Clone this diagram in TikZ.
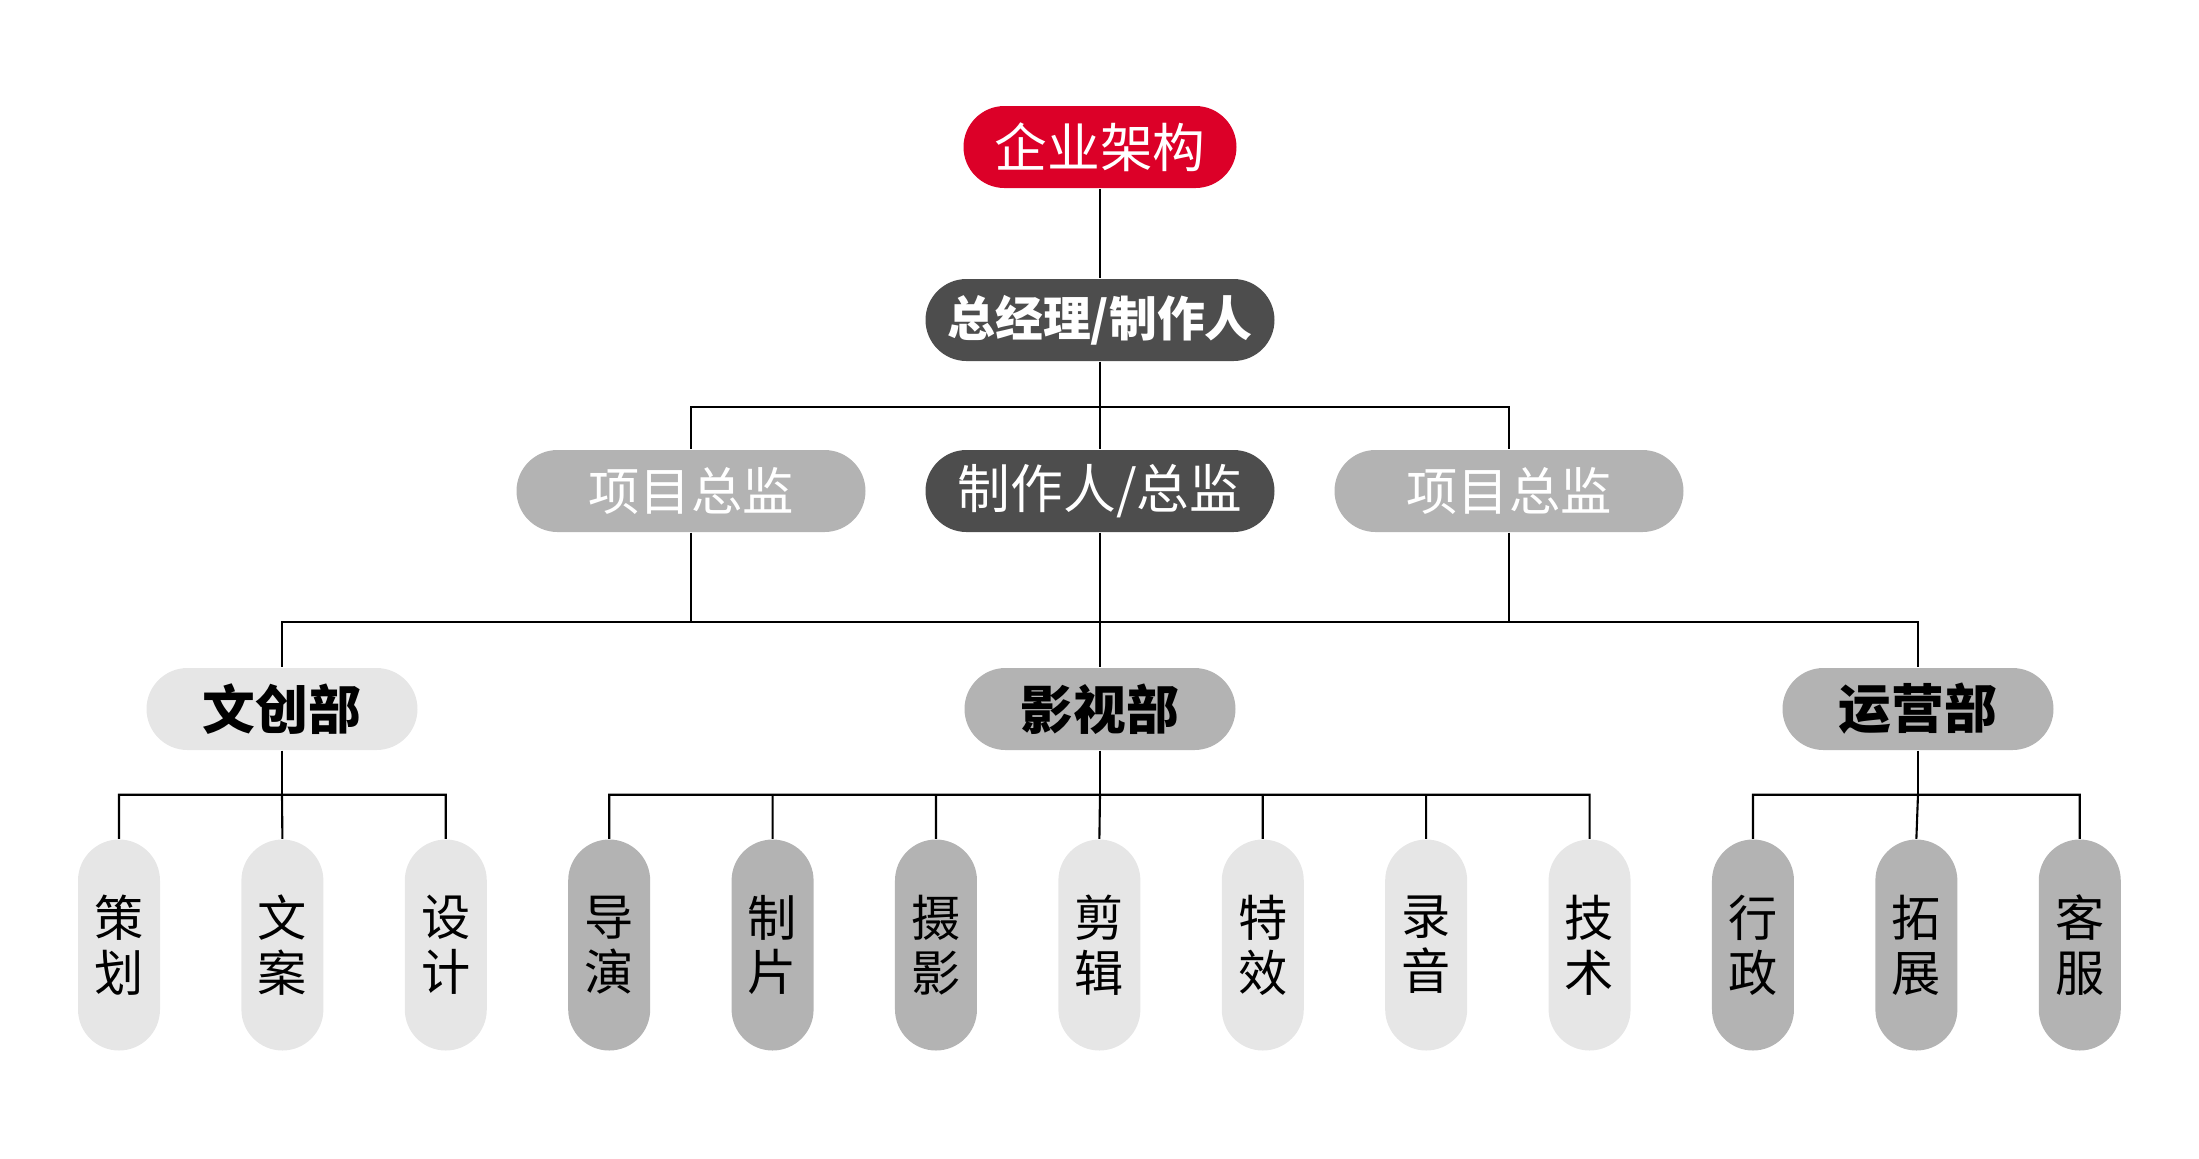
\documentclass[tikz,border=0pt]{standalone}
\usepackage{fontspec}
\setmainfont{Noto Sans CJK SC}
\usetikzlibrary{positioning}

\definecolor{topred}{RGB}{220,0,40}
\definecolor{darkbox}{RGB}{77,77,77}
\definecolor{midbox}{RGB}{179,179,179}
\definecolor{lightbox}{RGB}{230,230,230}

\begin{document}
\begin{tikzpicture}[x=0.1mm, y=-0.1mm, node distance=1.634cm,
  pill/.style={rounded corners=4.1mm, minimum height=8.2mm, inner sep=0pt,
    font=\fontsize{15}{18}\selectfont},
  heavy/.style={font=\fontsize{15}{18}\selectfont\bfseries},
  leaf/.style={rounded corners=4.1mm, minimum width=8.2mm, minimum height=21.1mm,
    inner sep=0pt, align=center, font=\fontsize{14}{15.6}\selectfont},
  link/.style={line width=0.6pt}]
  \useasboundingbox (0,0) rectangle (2199,1158);

  % top levels
  \node[pill, fill=topred, text=white, minimum width=27.3mm] (top) at (1100,147) {企业架构};
  \node[pill, heavy, fill=darkbox, text=white, minimum width=34.9mm,
    font=\fontsize{13.6}{18}\selectfont\bfseries] (gm) at (1100,320) {总经理/制作人};
  \node[pill, fill=midbox, text=white, minimum width=34.9mm,
    font=\fontsize{14.6}{18}\selectfont] (pm1) at (691,491) {项目总监};
  \node[pill, fill=darkbox, text=white, minimum width=34.9mm] (pd) at (1100,491) {制作人/总监};
  \node[pill, fill=midbox, text=white, minimum width=34.9mm,
    font=\fontsize{14.6}{18}\selectfont] (pm2) at (1509,491) {项目总监};

  % departments
  \node[pill, heavy, fill=lightbox, minimum width=27.1mm] (wc) at (282,709) {文创部};
  \node[pill, heavy, fill=midbox, minimum width=27.1mm] (ys) at (1100,709) {影视部};
  \node[pill, heavy, fill=midbox, minimum width=27.1mm] (yy) at (1918,709) {运营部};

  % staff
  \node[leaf, fill=lightbox] (ch) at (119,945) {策\\划};
  \node[leaf, fill=lightbox, right of=ch] (wa) {文\\案};
  \node[leaf, fill=lightbox, right of=wa] (sj) {设\\计};
  \node[leaf, fill=midbox, right of=sj] (dy) {导\\演};
  \node[leaf, fill=midbox, right of=dy] (zp) {制\\片};
  \node[leaf, fill=midbox, right of=zp] (sy) {摄\\影};
  \node[leaf, fill=lightbox, right of=sy] (jj) {剪\\辑};
  \node[leaf, fill=lightbox, right of=jj] (tx) {特\\效};
  \node[leaf, fill=lightbox, right of=tx] (ly) {录\\音};
  \node[leaf, fill=lightbox, right of=ly] (js) {技\\术};
  \node[leaf, fill=midbox, right of=js] (xz) {行\\政};
  \node[leaf, fill=midbox, right of=xz] (tz) {拓\\展};
  \node[leaf, fill=midbox, right of=tz] (kf) {客\\服};

  \coordinate (bus1) at (1100,407);
  \coordinate (bus2) at (1100,622);

  \draw[link]
  (top.south) -- (gm.north)
  (gm.south) -- (pd.north)
  (bus1) -| (pm1.north)
  (bus1) -| (pm2.north)
  (pm1.south) |- (bus2)
  (pm2.south) |- (bus2)
  (pd.south) -- (ys.north)
  (bus2) -| (wc.north)
  (bus2) -| (yy.north);

  \draw[link] (wc.south) -- ++(0,44) coordinate (wcbus);
  \draw[link] (wcbus) -| (ch.north) (wcbus) -| (sj.north) (wcbus) -- (wa.north);
  \draw[link] (ys.south) -- ++(0,44) coordinate (ysbus);
  \draw[link]
  (ysbus) -| (dy.north) (ysbus) -| (zp.north) (ysbus) -| (sy.north)
  (ysbus) -- (jj.north)
  (ysbus) -| (tx.north) (ysbus) -| (ly.north) (ysbus) -| (js.north);
  \draw[link] (yy.south) -- ++(0,44) coordinate (yybus);
  \draw[link] (yybus) -| (xz.north) (yybus) -| (kf.north) (yybus) -- (tz.north);
\end{tikzpicture}
\end{document}
